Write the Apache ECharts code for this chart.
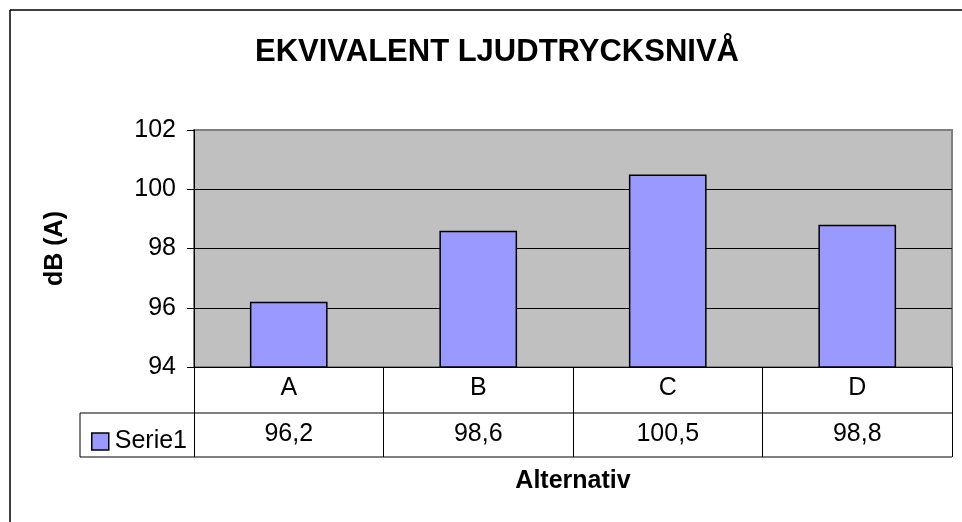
<!DOCTYPE html>
<html>
<head>
<meta charset="utf-8">
<script src="https://cdn.jsdelivr.net/npm/echarts@6/dist/echarts.min.js"></script>
<style>
  html, body { margin: 0; padding: 0; background: #fff; }
  #main { width: 962px; height: 522px; }
</style>
</head>
<body>
<div id="main"></div>
<script>
// data
var categories = ['A', 'B', 'C', 'D'];
var values = [96.2, 98.6, 100.5, 98.8];
var seriesName = 'Serie1';
var titleText = 'EKVIVALENT LJUDTRYCKSNIVÅ';
var yName = 'dB (A)';
var xName = 'Alternativ';

var font = '"Liberation Sans", Arial, sans-serif';
var chart = echarts.init(document.getElementById('main'));

// table values with decimal comma
var tableLabels = values.map(function (v) { return v.toFixed(1).replace('.', ','); });

var option = {
  animation: false,
  backgroundColor: '#fff',
  title: {
    text: titleText,
    left: 492,
    top: 32,
    textAlign: 'center',
    textStyle: { fontFamily: font, fontSize: 31, fontWeight: 'bold', color: '#000' }
  },
  legend: {
    left: 86,
    top: 424,
    icon: 'rect',
    itemWidth: 17,
    itemHeight: 17,
    itemGap: 0,
    itemStyle: { borderColor: '#000', borderWidth: 1.5 },
    textStyle: { fontFamily: font, fontSize: 25, color: '#000', padding: [0, 0, 0, 1] },
    data: [seriesName]
  },
  grid: {
    left: 194,
    right: 10,
    top: 130,
    bottom: 155,
    show: true,
    backgroundColor: '#C0C0C0',
    borderColor: '#808080',
    borderWidth: 2
  },
  xAxis: [{
    type: 'category',
    data: categories,
    position: 'bottom',
    name: xName,
    nameLocation: 'middle',
    nameGap: 102,
    nameTextStyle: { fontFamily: font, fontSize: 25, fontWeight: 'bold', color: '#000' },
    axisLine: { lineStyle: { color: '#000', width: 1 } },
    axisTick: { show: true, length: 90, lineStyle: { color: '#000' } },
    axisLabel: { fontFamily: font, fontSize: 25, color: '#000', margin: 9 }
  }, {
    type: 'category',
    data: tableLabels,
    position: 'bottom',
    offset: 46,
    axisLine: { show: false },
    axisTick: { show: false },
    axisLabel: { fontFamily: font, fontSize: 25, color: '#000', margin: 9 }
  }],
  yAxis: {
    type: 'value',
    min: 94,
    max: 102,
    interval: 2,
    name: yName,
    nameLocation: 'middle',
    nameRotate: 90,
    nameGap: 126,
    nameTextStyle: { fontFamily: font, fontSize: 25, fontWeight: 'bold', color: '#000' },
    axisLine: { show: true, lineStyle: { color: '#000', width: 1 } },
    axisTick: { show: true, length: 7, lineStyle: { color: '#000' } },
    axisLabel: { fontFamily: font, fontSize: 25, color: '#000', margin: 18 },
    splitLine: { show: true, lineStyle: { color: ['#000', '#000', '#000', '#000', '#808080'], width: 1 } }
  },
  series: [{
    name: seriesName,
    type: 'bar',
    data: values,
    barCategoryGap: '59%',
    itemStyle: { color: '#9999FF', borderColor: '#000', borderWidth: 1.5 }
  }],
  graphic: [
    // outer chart border (only top and left edges are in view)
    { type: 'line', shape: { x1: 10, y1: 10, x2: 962, y2: 10 }, style: { stroke: '#000', lineWidth: 1.5 } },
    { type: 'line', shape: { x1: 10, y1: 10, x2: 10, y2: 522 }, style: { stroke: '#000', lineWidth: 1.5 } },
    // data table lines
    { type: 'line', shape: { x1: 80, y1: 413, x2: 952, y2: 413 }, style: { stroke: '#000', lineWidth: 1 } },
    { type: 'line', shape: { x1: 80, y1: 457, x2: 952, y2: 457 }, style: { stroke: '#000', lineWidth: 1 } },
    { type: 'line', shape: { x1: 80, y1: 413, x2: 80, y2: 457 }, style: { stroke: '#000', lineWidth: 1 } }
  ]
};

chart.setOption(option);
</script>
</body>
</html>
